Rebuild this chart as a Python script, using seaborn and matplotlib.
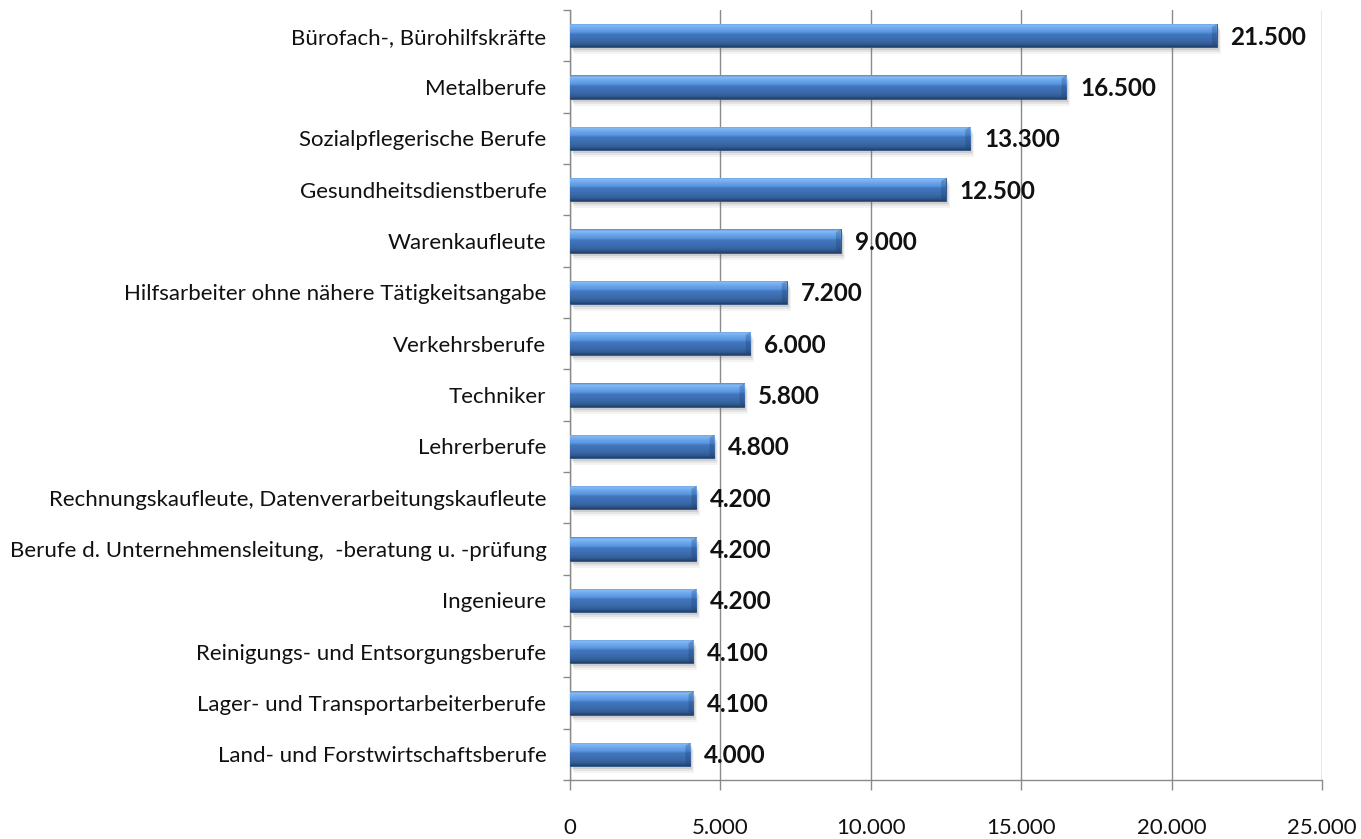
import numpy as np
import pandas as pd
import matplotlib
matplotlib.use("Agg")
import matplotlib.pyplot as plt
import matplotlib.transforms as mtransforms
from matplotlib.patches import Rectangle, Polygon
from matplotlib.colors import LinearSegmentedColormap
import seaborn as sns

categories = [
    "Bürofach-, Bürohilfskräfte",
    "Metalberufe",
    "Sozialpflegerische Berufe",
    "Gesundheitsdienstberufe",
    "Warenkaufleute",
    "Hilfsarbeiter ohne nähere Tätigkeitsangabe",
    "Verkehrsberufe",
    "Techniker",
    "Lehrerberufe",
    "Rechnungskaufleute, Datenverarbeitungskaufleute",
    "Berufe d. Unternehmensleitung,  -beratung u. -prüfung",
    "Ingenieure",
    "Reinigungs- und Entsorgungsberufe",
    "Lager- und Transportarbeiterberufe",
    "Land- und Forstwirtschaftsberufe",
]
values = [21500, 16500, 13300, 12500, 9000, 7200, 6000, 5800, 4800,
          4200, 4200, 4200, 4100, 4100, 4000]
x_ticks = [0, 5000, 10000, 15000, 20000, 25000]


def de_thousands(v):
    return f"{v:,.0f}".replace(",", ".")


sns.set_theme(style="white")
plt.rcParams["font.family"] = ["Lato", "DejaVu Sans"]

df = pd.DataFrame({"Beruf": categories, "Anzahl": values})

fig = plt.figure(figsize=(13.61, 8.39), dpi=100)
ax = fig.add_axes([570 / 1361, 1 - 780 / 839, (1322 - 570) / 1361, 770 / 839])

sns.barplot(data=df, y="Beruf", x="Anzahl", orient="h", ax=ax,
            color="#3d6fb3", width=0.45, saturation=1, zorder=3)

# glossy, bevelled look for each bar
grad = LinearSegmentedColormap.from_list(
    "bevel",
    [(0.0, "#4f8ad4"), (0.08, "#86bbf3"), (0.2, "#70aaee"),
     (0.38, "#5894e0"), (0.46, "#4277bd"), (0.75, "#3a69aa"),
     (0.9, "#30598f"), (1.0, "#213f6b")])
gvals = np.linspace(0, 1, 96).reshape(-1, 1)
for p in list(ax.patches):
    x0, y0 = p.get_x(), p.get_y()
    w, h = p.get_width(), p.get_height()
    # soft drop shadow
    for dx, dy, a in [(2, -3, 0.18), (3, -5, 0.12), (4, -7, 0.07)]:
        tf = mtransforms.offset_copy(ax.transData, fig=fig, x=dx, y=dy, units="dots")
        ax.add_patch(Rectangle((x0, y0), w, h, transform=tf, facecolor="#6f6f6f",
                               alpha=a, edgecolor="none", zorder=2.5))
    im = ax.imshow(gvals, cmap=grad, aspect="auto", extent=(x0, x0 + w, y0 + h, y0),
                   zorder=3.2, interpolation="bilinear")
    im.set_clip_path(p)
    # darker bevelled end cap
    cap = 160
    ax.add_patch(Polygon([(x0 + w - cap, y0 + h * 0.12), (x0 + w, y0),
                          (x0 + w, y0 + h), (x0 + w - cap, y0 + h * 0.9)],
                         closed=True, facecolor="#1d3a66", alpha=0.28,
                         edgecolor="none", zorder=3.3))
    p.set_edgecolor("#2b5283")
    p.set_linewidth(0.6)

for i, v in enumerate(values):
    ax.annotate(de_thousands(v), xy=(v, i), xytext=(10, -1), textcoords="offset points",
                ha="left", va="center", fontsize=17.5, fontweight="bold",
                color="#111111", zorder=5)

ax.set_xlim(0, 25000)
ax.set_ylim(len(categories) - 0.5, -0.5)
ax.set_xticks(x_ticks)
ax.set_xticklabels([de_thousands(t) for t in x_ticks])
ax.set_xlabel("")
ax.set_ylabel("")

ax.xaxis.grid(True, color="#8a8a8a", linewidth=1.0, zorder=0)
ax.yaxis.grid(False)
ax.set_axisbelow(True)

for s in ["top", "right"]:
    ax.spines[s].set_visible(False)
for s in ["left", "bottom"]:
    ax.spines[s].set_color("#8a8a8a")
    ax.spines[s].set_linewidth(1.0)

ax.set_yticks(np.arange(-0.5, len(categories), 1.0), minor=True)
ax.tick_params(axis="y", which="major", length=0, pad=17, labelsize=16, labelcolor="#111111")
ax.tick_params(axis="y", which="minor", length=5, color="#8a8a8a", width=1.0, left=True)
ax.tick_params(axis="x", which="major", length=7, color="#8a8a8a", width=1.0, bottom=True,
               pad=20, labelsize=16, labelcolor="#111111")

fig.savefig("out.png", dpi=100)
